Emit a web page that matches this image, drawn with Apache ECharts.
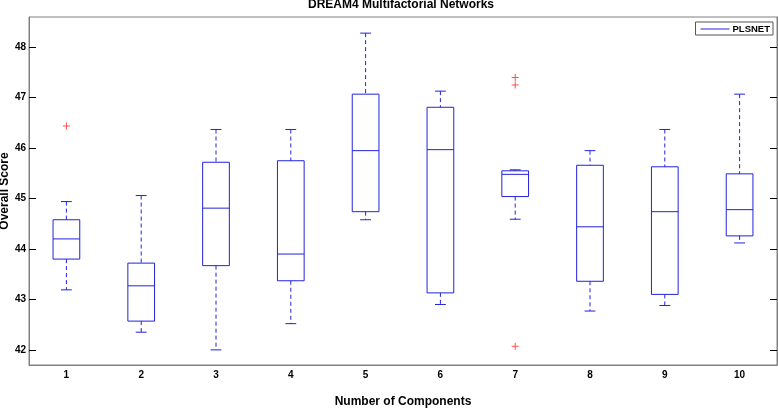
<!DOCTYPE html>
<html>
<head>
<meta charset="utf-8">
<script src="https://cdn.jsdelivr.net/npm/echarts@6/dist/echarts.min.js"></script>
<style>html,body{margin:0;padding:0;background:#fff}#c{width:778px;height:408px}</style>
</head>
<body>
<div id="c"></div>
<script>
const categories = ['1','2','3','4','5','6','7','8','9','10'];
const lowerWhisker = [43.19, 42.35, 42.00, 42.52, 44.58, 42.90, 44.59, 42.77, 42.88, 44.12];
const q1 =           [43.80, 42.57, 43.67, 43.37, 44.74, 43.13, 45.04, 43.36, 43.10, 44.26];
const median =       [44.20, 43.27, 44.81, 43.90, 45.95, 45.97, 45.48, 44.44, 44.74, 44.78];
const q3 =           [44.58, 43.72, 45.72, 45.75, 47.07, 46.81, 45.55, 45.66, 45.63, 45.49];
const upperWhisker = [44.94, 45.06, 46.37, 46.37, 48.28, 47.13, 45.57, 45.95, 46.37, 47.07];
const outlierCategory = ['1', '7', '7', '7'];
const outlierValue = [46.44, 47.40, 47.25, 42.07];
const yTicks = [42, 43, 44, 45, 46, 47, 48];
const seriesName = 'PLSNET';

const boxColor = '#2222dd';
const font = 'Liberation Sans, Arial, sans-serif';

const boxData = categories.map((c, i) => [i, lowerWhisker[i], q1[i], median[i], q3[i], upperWhisker[i]]);
const outData = outlierCategory.map((c, i) => [categories.indexOf(c), outlierValue[i]]);

const chart = echarts.init(document.getElementById('c'), null, {renderer: 'canvas'});
chart.setOption({
  animation: false,
  backgroundColor: '#fff',
  title: {
    text: 'DREAM4 Multifactorial Networks',
    left: 308, top: -1, padding: 0,
    textStyle: {fontFamily: font, fontWeight: 'bold', fontSize: 12, color: '#000'}
  },
  legend: {
    data: [{name: seriesName, icon: 'path://M0,0h30v1h-30z'}],
    right: 5, top: 22,
    itemWidth: 29, itemHeight: 1.2, itemGap: 0,
    padding: [2, 3, 1, 5],
    borderColor: '#555', borderWidth: 1,
    textStyle: {fontFamily: font, fontWeight: 'bold', fontSize: 9.5, color: '#000', padding: [0, 0, 0, -2]}
  },
  grid: {left: 29, right: 1, top: 17, bottom: 43, show: true, borderColor: '#808080', borderWidth: 1, containLabel: false, outerBoundsMode: 'none'},
  xAxis: {
    type: 'category', data: categories, boundaryGap: true,
    name: 'Number of Components', nameLocation: 'middle', nameGap: 31, nameMoveOverlap: false,
    nameTextStyle: {fontFamily: font, fontWeight: 'bold', fontSize: 12, color: '#000'},
    axisLine: {show: true, lineStyle: {color: '#808080'}},
    axisTick: {show: false},
    splitLine: {show: false},
    axisLabel: {fontFamily: font, fontWeight: 'bold', fontSize: 10, color: '#000', margin: 5}
  },
  yAxis: [{
    type: 'value', min: 41.7, max: 48.6, position: 'left',
    name: 'Overall Score', nameLocation: 'middle', nameGap: 18, nameRotate: 90, nameMoveOverlap: false,
    nameTextStyle: {fontFamily: font, fontWeight: 'bold', fontSize: 12, color: '#000'},
    axisLine: {show: true, lineStyle: {color: '#808080'}},
    axisTick: {show: true, inside: true, length: 7, customValues: yTicks, lineStyle: {color: '#000'}},
    axisLabel: {customValues: yTicks, fontFamily: font, fontWeight: 'bold', fontSize: 10, color: '#000', margin: 3},
    splitLine: {show: false}
  }, {
    type: 'value', min: 41.7, max: 48.6, position: 'right',
    axisLine: {show: true, lineStyle: {color: '#808080'}},
    axisTick: {show: true, inside: true, length: 7, customValues: yTicks, lineStyle: {color: '#000'}},
    axisLabel: {show: false},
    splitLine: {show: false}
  }],
  series: [{
    name: seriesName,
    type: 'custom',
    yAxisIndex: 0,
    itemStyle: {color: boxColor},
    encode: {x: 0, y: [1, 2, 3, 4, 5]},
    data: boxData,
    renderItem: function (params, api) {
      const i = api.value(0);
      const lo = api.coord([i, api.value(1)]);
      const b1 = api.coord([i, api.value(2)]);
      const md = api.coord([i, api.value(3)]);
      const b3 = api.coord([i, api.value(4)]);
      const hi = api.coord([i, api.value(5)]);
      const band = api.size([1, 0])[0];
      const bw = band * 0.357, cw = band * 0.145;
      const x = lo[0];
      const solid = {stroke: boxColor, lineWidth: 1, fill: null};
      const dashed = {stroke: boxColor, lineWidth: 1, fill: null, lineDash: [4, 3]};
      return {
        type: 'group',
        children: [
          {type: 'line', shape: {x1: x, y1: hi[1], x2: x, y2: b3[1]}, style: dashed},
          {type: 'line', shape: {x1: x, y1: b1[1], x2: x, y2: lo[1]}, style: dashed},
          {type: 'line', shape: {x1: x - cw / 2, y1: hi[1], x2: x + cw / 2, y2: hi[1]}, style: solid},
          {type: 'line', shape: {x1: x - cw / 2, y1: lo[1], x2: x + cw / 2, y2: lo[1]}, style: solid},
          {type: 'rect', shape: {x: x - bw / 2, y: b3[1], width: bw, height: b1[1] - b3[1]}, style: {stroke: boxColor, lineWidth: 1, fill: 'rgba(0,0,0,0)'}},
          {type: 'line', shape: {x1: x - bw / 2, y1: md[1], x2: x + bw / 2, y2: md[1]}, style: solid}
        ]
      };
    }
  }, {
    name: 'outliers',
    type: 'scatter',
    yAxisIndex: 0,
    symbol: 'path://M3,0h1v7h-1zM0,3h7v1h-7z',
    symbolSize: 7,
    itemStyle: {color: '#ff2020'},
    data: outData
  }]
});
</script>
</body>
</html>
